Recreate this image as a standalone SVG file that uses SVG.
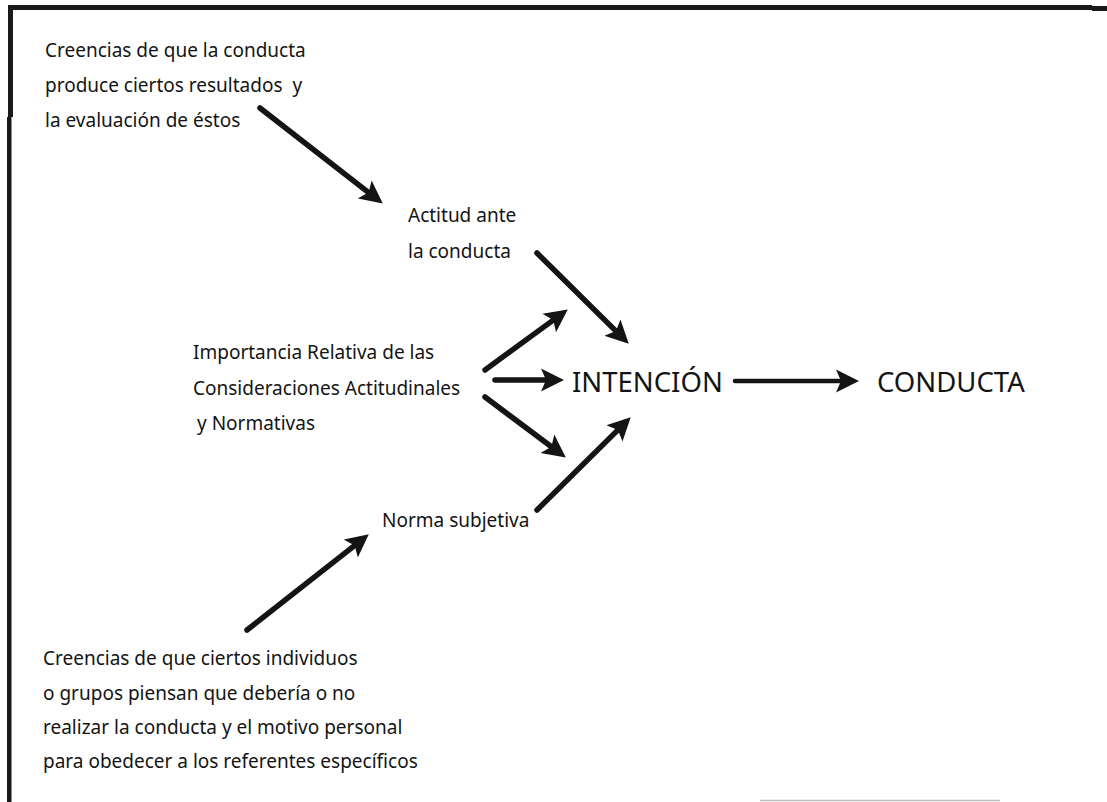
<svg xmlns="http://www.w3.org/2000/svg" width="1107" height="802" viewBox="0 0 1107 802">
  <style>
    .lbl { font-family: "Noto Sans", "Open Sans", sans-serif; font-size: 19px; fill: #141414; }
    .big { font-family: "Noto Sans", "Open Sans", sans-serif; font-size: 27.5px; fill: #141414; }
    .arw { stroke: #141414; stroke-width: 5.5; fill: none; stroke-linecap: round; marker-end: url(#head); }
    .thin { stroke-width: 4.5; }
  </style>
  <defs>
    <marker id="head" markerUnits="userSpaceOnUse" viewBox="0 0 24 24" markerWidth="24" markerHeight="24" refX="10" refY="12" orient="auto">
      <path d="M0,0.5 L23,12 L0,23.5 L5,12 z" fill="#141414"/>
    </marker>
  </defs>

  <rect width="1107" height="802" fill="#ffffff"/>

  <!-- frame -->
  <g id="frame" fill="#1a1a1a">
    <rect x="8" y="5" width="1084" height="5"/>
    <rect x="1092" y="6" width="15" height="5"/>
    <rect x="8" y="5" width="5" height="112"/>
    <rect x="7" y="117" width="4.5" height="685"/>
    <line x1="760" y1="800.5" x2="1000" y2="800.5" stroke="#bdbdbd" stroke-width="1.5"/>
  </g>

  <!-- connectors -->
  <g id="connectors">
    <line class="arw" x1="260" y1="108" x2="372.5" y2="195.6"/>
    <line class="arw" x1="537" y1="253" x2="619.5" y2="334.6"/>
    <line class="arw" x1="485" y1="370" x2="557.3" y2="317.1"/>
    <line class="arw" x1="495" y1="380" x2="551" y2="380"/>
    <line class="arw" x1="485" y1="397" x2="555.4" y2="449.8"/>
    <line class="arw" x1="537" y1="510" x2="621.5" y2="426.4"/>
    <line class="arw" x1="247" y1="630" x2="358.6" y2="542.4"/>
    <line class="arw thin" x1="735" y1="381" x2="846" y2="381"/>
  </g>

  <g id="creencias-conducta">
    <text class="lbl" x="45" y="57">Creencias de que la conducta</text>
    <text class="lbl" x="45" y="92" xml:space="preserve">produce ciertos resultados  y</text>
    <text class="lbl" x="45" y="127">la evaluación de éstos</text>
  </g>

  <g id="actitud">
    <text class="lbl" x="408" y="222">Actitud ante</text>
    <text class="lbl" x="408" y="258">la conducta</text>
  </g>

  <g id="importancia">
    <text class="lbl" x="193" y="359">Importancia Relativa de las</text>
    <text class="lbl" x="193" y="395">Consideraciones Actitudinales</text>
    <text class="lbl" x="197" y="430">y Normativas</text>
  </g>

  <g id="intencion">
    <text class="big" x="572" y="392">INTENCIÓN</text>
  </g>

  <g id="conducta">
    <text class="big" x="877" y="392">CONDUCTA</text>
  </g>

  <g id="norma">
    <text class="lbl" x="382" y="527">Norma subjetiva</text>
  </g>

  <g id="creencias-referentes">
    <text class="lbl" x="43" y="665">Creencias de que ciertos individuos</text>
    <text class="lbl" x="43" y="700">o grupos piensan que debería o no</text>
    <text class="lbl" x="43" y="734">realizar la conducta y el motivo personal</text>
    <text class="lbl" x="43" y="768">para obedecer a los referentes específicos</text>
  </g>
</svg>
